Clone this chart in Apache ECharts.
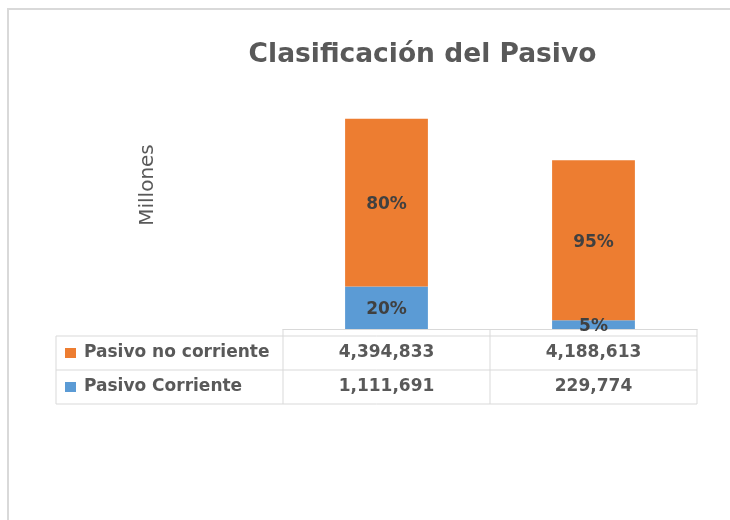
<!DOCTYPE html>
<html>
<head>
<meta charset="utf-8">
<script src="https://cdn.jsdelivr.net/npm/echarts@6/dist/echarts.min.js"></script>
<style>
html,body{margin:0;padding:0;background:#fff;}
#main{width:730px;height:520px;}
</style>
</head>
<body>
<div id="main"></div>
<script>
// ---- data ----
var categories = ['', ' '];
var seriesNames = ['Pasivo Corriente', 'Pasivo no corriente'];
var pasivoCorriente = [1111691, 229774];
var pasivoNoCorriente = [4394833, 4188613];
var seriesColors = ['#5B9BD5', '#ED7D31'];
var titleText = 'Clasificación del Pasivo';
var unitLabel = 'Millones';

var allSeries = [pasivoCorriente, pasivoNoCorriente];
function totalAt(i) { var s = 0; allSeries.forEach(function (a) { s += a[i]; }); return s; }
function fmt(v) { return v.toString().replace(/\B(?=(\d{3})+(?!\d))/g, ','); }

var FONT = 'DejaVu Sans';
var chart = echarts.init(document.getElementById('main'), null, {renderer: 'canvas'});

var labelStyle = {
  show: true,
  position: 'inside',
  offset: [0, 2],
  fontFamily: FONT,
  fontWeight: 'bold',
  fontSize: 17,
  color: '#404040',
  formatter: function (p) {
    return Math.round(p.value / totalAt(p.dataIndex) * 100) + '%';
  }
};

chart.setOption({
  animation: false,
  backgroundColor: '#ffffff',
  grid: {left: 283, right: 33, top: 100, bottom: 191, containLabel: false},
  xAxis: {
    type: 'category',
    data: categories,
    axisLine: {show: true, lineStyle: {color: '#d9d9d9', width: 1}},
    axisTick: {show: false},
    axisLabel: {show: false}
  },
  yAxis: {
    type: 'value',
    min: 0,
    max: 6000000,
    interval: 1000000,
    show: false,
    splitLine: {show: false}
  },
  series: [
    {
      name: seriesNames[0], type: 'bar', stack: 'pasivo',
      data: pasivoCorriente, barCategoryGap: '60%',
      itemStyle: {color: seriesColors[0]},
      label: labelStyle
    },
    {
      name: seriesNames[1], type: 'bar', stack: 'pasivo',
      data: pasivoNoCorriente, barCategoryGap: '60%',
      itemStyle: {color: seriesColors[1]},
      label: labelStyle
    }
  ]
});

// ---- data table under the axis ----
var x0 = chart.convertToPixel({xAxisIndex: 0}, 0);
var x1 = chart.convertToPixel({xAxisIndex: 0}, 1);
var colW = x1 - x0;
var axisY = chart.convertToPixel({yAxisIndex: 0}, 0);
var tableLeft = 56;
var colLeft = x0 - colW / 2;
var colRight = x0 + colW * (categories.length - 0.5);
var headerBottom = axisY + 7;
var rowH = 34;
var lineColor = '#d9d9d9';

var g = [];
// outer frame of the chart area
g.push({type: 'rect', shape: {x: 8, y: 9, width: 760, height: 540},
  style: {fill: null, stroke: '#d9d9d9', lineWidth: 2}, silent: true});

// table rows: same order as Excel (top series first)
var rows = [
  {name: seriesNames[1], values: pasivoNoCorriente, color: seriesColors[1]},
  {name: seriesNames[0], values: pasivoCorriente, color: seriesColors[0]}
];
var tableBottom = headerBottom + rowH * rows.length;

// horizontal lines
g.push({type: 'line', shape: {x1: tableLeft, y1: headerBottom, x2: colRight, y2: headerBottom}, style: {stroke: lineColor, lineWidth: 1}});
rows.forEach(function (r, i) {
  var yb = headerBottom + rowH * (i + 1);
  g.push({type: 'line', shape: {x1: tableLeft, y1: yb, x2: colRight, y2: yb}, style: {stroke: lineColor, lineWidth: 1}});
});
// vertical lines
g.push({type: 'line', shape: {x1: tableLeft, y1: headerBottom, x2: tableLeft, y2: tableBottom}, style: {stroke: lineColor, lineWidth: 1}});
for (var c = 0; c <= categories.length; c++) {
  var xv = colLeft + colW * c;
  g.push({type: 'line', shape: {x1: xv, y1: axisY, x2: xv, y2: tableBottom}, style: {stroke: lineColor, lineWidth: 1}});
}
// row contents
rows.forEach(function (r, i) {
  var yc = headerBottom + rowH * i + rowH / 2;
  g.push({type: 'rect', shape: {x: 65, y: yc - 5, width: 11, height: 10}, style: {fill: r.color}});
  g.push({type: 'text', x: 84, y: yc, style: {text: r.name, fontFamily: FONT, fontWeight: 'bold', fontSize: 17,
    fill: '#595959', align: 'left', verticalAlign: 'middle'}});
  r.values.forEach(function (v, j) {
    g.push({type: 'text', x: x0 + colW * j, y: yc, style: {text: fmt(v), fontFamily: FONT, fontWeight: 'bold', fontSize: 17,
      fill: '#595959', align: 'center', verticalAlign: 'middle'}});
  });
});
// title
g.push({type: 'text', x: 422.5, y: 55, style: {text: titleText, fontFamily: FONT, fontWeight: 'bold', fontSize: 26.5,
  fill: '#595959', align: 'center', verticalAlign: 'middle'}});
// unit label
g.push({type: 'text', x: 148, y: 185, rotation: Math.PI / 2, style: {text: unitLabel, fontFamily: FONT, fontSize: 20,
  fill: '#595959', align: 'center', verticalAlign: 'middle'}});

chart.setOption({graphic: {elements: g}});
</script>
</body>
</html>
